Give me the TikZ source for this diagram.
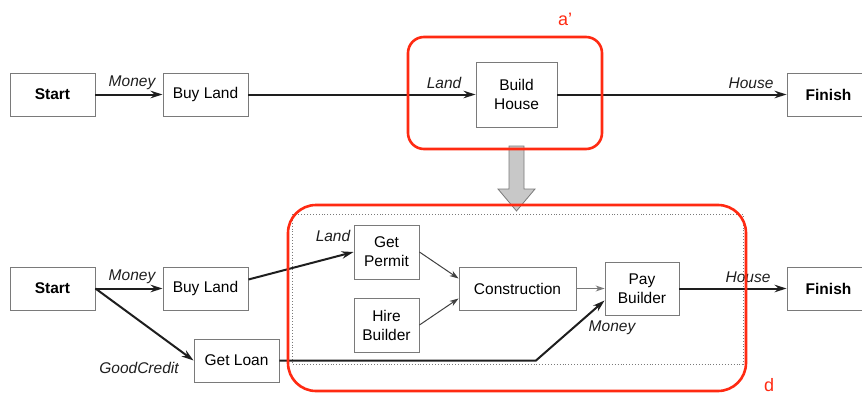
\documentclass[tikz,border=0pt]{standalone}
\usepackage{fontspec}
\setmainfont{Liberation Sans}
\usetikzlibrary{arrows.meta,calc}
\definecolor{boxgray}{HTML}{7A7A7A}
\definecolor{linedark}{HTML}{1E1E1E}
\definecolor{redline}{HTML}{FF2A12}
\definecolor{arrowfill}{HTML}{C8C8C8}
\begin{document}
\begin{tikzpicture}[x=1pt,y=-1pt,
  font=\fontsize{15.5}{17}\selectfont,
  box/.style={draw=boxgray, line width=0.9pt, inner sep=0pt, align=center, fill=white},
  endbox/.style={box, minimum width=85pt, minimum height=43pt, font=\fontsize{15.5}{17}\selectfont\bfseries},
  stdbox/.style={box, minimum width=85pt, minimum height=43pt},
  thick flow/.style={draw=linedark, line width=2pt, -{Stealth[length=12pt,width=7.5pt]}},
  thin flow/.style={draw=linedark!85, line width=1pt, -{Stealth[length=9pt,width=6pt]}},
  lbl/.style={font=\fontsize{15.5}{17}\selectfont\itshape, inner sep=0pt, text=linedark},
  redbox/.style={draw=redline, line width=2.6pt},
  redlbl/.style={text=redline, font=\fontsize{18}{19}\selectfont, inner sep=0pt}]
\useasboundingbox (0,0) rectangle (862,396);

% dotted region
\draw[boxgray, dotted, line width=0.9pt] (292,214) rectangle (743,364);

% top row
\node[endbox] (s1) at (52.5,94.5) {Start};
\node[stdbox] (b1) at (205.5,94.5) {Buy Land};
\node[box, minimum width=81pt, minimum height=65pt] (h1) at (516.5,94.5) {Build\\[2pt]House};
\node[endbox, minimum width=83pt] (f1) at (828.5,94.5) {Finish};

\draw[thick flow] (s1) -- (b1);
\draw[thick flow] (b1) -- (h1);
\draw[thick flow] (h1) -- (f1);
\node[lbl] (m1) at (132,83) {Money};
\node[lbl] (l1) at (444,83) {Land};
\node[lbl] (o1) at (751,83) {House};

% bottom row
\node[endbox] (s2) at (52.5,288.5) {Start};
\node[stdbox] (b2) at (205.5,288.5) {Buy Land};
\node[stdbox] (gl) at (236.5,360.5) {Get Loan};
\node[box, minimum width=65pt, minimum height=54pt] (gp) at (386.5,252) {Get\\[2pt]Permit};
\node[box, minimum width=65pt, minimum height=54pt] (hb) at (386.5,325) {Hire\\[2pt]Builder};
\node[box, minimum width=117pt, minimum height=43pt] (co) at (517.5,288.5) {Construction};
\node[box, minimum width=74pt, minimum height=53pt] (pb) at (642,288.5) {Pay\\[2pt]Builder};
\node[endbox, minimum width=83pt] (f2) at (828.5,288.5) {Finish};

\coordinate (b2out) at ($(b2.east)+(0,-9)$);
\coordinate (coin1) at ($(co.west)+(0,-10)$);
\coordinate (coin2) at ($(co.west)+(0,10)$);
\coordinate (pbin) at ($(pb.west)+(0,12)$);
\coordinate (bend) at (536,360.5);

\draw[thick flow] (s2.east) -- (b2);
\draw[thick flow] (s2.east) -- (gl.west);
\draw[thick flow] (b2out) -- (gp.west);
\draw[thin flow] (gp.east) -- (coin1);
\draw[thin flow] (hb.east) -- (coin2);
\draw[thin flow, draw=boxgray] (co) -- (pb);
\draw[thick flow] (gl.east) -- (bend) -- (pbin);
\draw[thick flow] (pb) -- (f2);

\node[lbl] (m2) at (132,277) {Money};
\node[lbl] (gc) at (139,368) {GoodCredit};
\node[lbl] (l2) at (333,236) {Land};
\node[lbl] (m3) at (612,328) {Money};
\node[lbl] (o2) at (748,277) {House};

% grey refinement arrow
\draw[boxgray, fill=arrowfill, line width=0.8pt]
  (509,146) -- (524,146) -- (524,189) -- (535,189) -- (516.5,211) -- (498,189) -- (509,189) -- cycle;

% red highlight boxes
\draw[redbox, rounded corners=16pt] (408,37) rectangle (602,149);
\draw[redbox, rounded corners=28pt] (288,205) rectangle (746,391);
\node[redlbl] (ta) at (565,19) {a’};
\node[redlbl, anchor=base] (td) at (769,391) {d};
\end{tikzpicture}
\end{document}
